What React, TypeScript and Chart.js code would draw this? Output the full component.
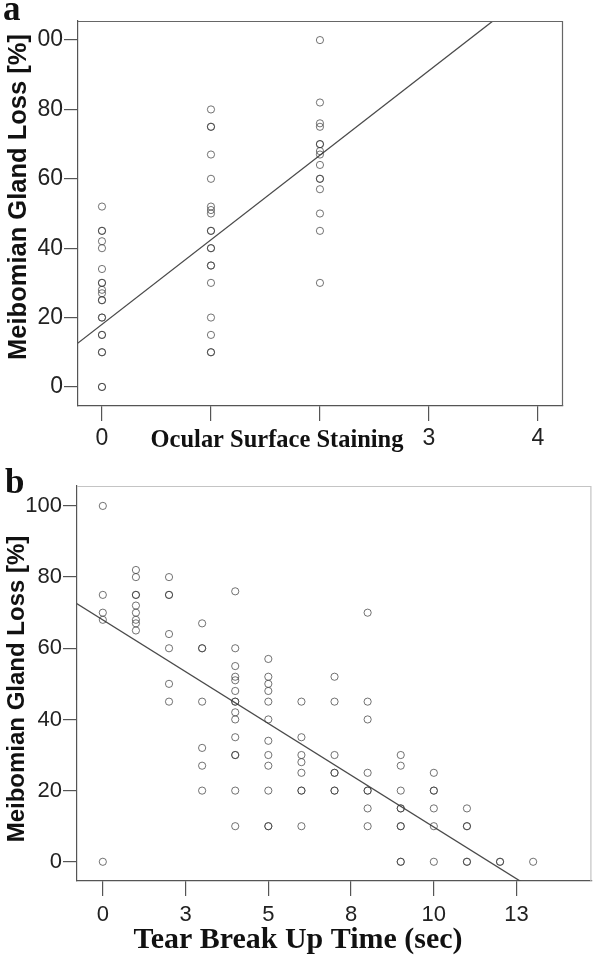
import React, { useEffect, useRef } from "react";
import { Chart, registerables } from "chart.js";

Chart.register(...registerables);

// ---------- Panel a: Ocular Surface Staining vs Meibomian Gland Loss ----------
const stainLevels = [0, 1, 2];
const lossStain0 = [52, 45, 45, 42, 40, 34, 30, 30, 28, 27, 25, 25, 20, 20, 15, 15, 10, 10, 0, 0];
const lossStain1 = [80, 75, 75, 67, 60, 52, 51, 50, 45, 45, 40, 40, 35, 35, 30, 20, 15, 10, 10];
const lossStain2 = [100, 82, 76, 75, 70, 70, 68, 67, 64, 60, 60, 57, 50, 45, 30];
const fitStainX = [-0.3, 3.8];
const fitStainY = [10.7, 110.7];
const stainTicks = [0, 1, 2, 3, 4];
const stainTickLabels = ["0", "", "", "3", "4"];
const lossTicks = [0, 20, 40, 60, 80, 100];
const lossTickLabelsA = ["0", "20", "40", "60", "80", "00"];
const lossTickLabelsB = ["0", "20", "40", "60", "80", "100"];

// ---------- Panel b: Tear Break Up Time vs Meibomian Gland Loss ----------
const tbutSeconds = [0, 1, 2, 3, 4, 5, 6, 7, 8, 9, 10, 11, 12, 13];
const lossByTbut = [
  [100, 75, 70, 68, 0],
  [82, 80, 75, 75, 72, 70, 68, 67, 65],
  [80, 75, 75, 64, 60, 50, 45],
  [67, 60, 60, 45, 32, 27, 20],
  [76, 60, 55, 52, 51, 48, 45, 45, 42, 40, 35, 30, 30, 20, 10],
  [57, 52, 50, 48, 45, 40, 34, 30, 27, 20, 10, 10],
  [45, 35, 30, 28, 25, 20, 20, 10],
  [52, 45, 30, 25, 25, 20, 20],
  [70, 45, 40, 25, 20, 20, 15, 10],
  [30, 27, 20, 15, 15, 10, 10, 0, 0],
  [25, 20, 20, 15, 10, 0],
  [15, 10, 10, 0, 0],
  [0, 0],
  [0],
];
const fitTbutX = [-0.9, 13.0];
const fitTbutY = [73.2, -7.7];
const tbutTicks = [0, 2.5, 5, 7.5, 10, 12.5];
const tbutTickLabels = ["0", "3", "5", "8", "10", "13"];

type TextItem = {
  text: string;
  x: number;
  y: number;
  font: string;
  size: number;
  bold?: boolean;
  rotate?: boolean;
  align?: CanvasTextAlign;
  fitWidth?: number;
};

function makeTextPlugin(items: TextItem[]) {
  return {
    id: "texts",
    afterDraw(chart: any) {
      const ctx = chart.ctx as CanvasRenderingContext2D;
      items.forEach((it) => {
        ctx.save();
        let size = it.size;
        const mk = (s: number) => `${it.bold ? "bold " : ""}${s}px ${it.font}`;
        ctx.font = mk(size);
        if (it.fitWidth) {
          const w = ctx.measureText(it.text).width;
          size = (size * it.fitWidth) / w;
          ctx.font = mk(size);
        }
        ctx.fillStyle = "#111";
        ctx.textBaseline = "alphabetic";
        ctx.textAlign = it.align || "center";
        ctx.translate(it.x, it.y);
        if (it.rotate) ctx.rotate(-Math.PI / 2);
        ctx.fillText(it.text, 0, 0);
        ctx.restore();
      });
    },
  };
}

function makeBoxPlugin(color: string) {
  return {
    id: "box",
    afterDatasetsDraw(chart: any) {
      const { ctx, chartArea } = chart;
      ctx.save();
      ctx.strokeStyle = color;
      ctx.lineWidth = 1.2;
      ctx.beginPath();
      ctx.moveTo(chartArea.left, chartArea.top + 0.5);
      ctx.lineTo(chartArea.right - 0.5, chartArea.top + 0.5);
      ctx.lineTo(chartArea.right - 0.5, chartArea.bottom);
      ctx.stroke();
      ctx.restore();
    },
  };
}

type PanelSpec = {
  points: { x: number; y: number }[];
  fit: { x: number; y: number }[];
  xMin: number;
  xMax: number;
  yMin: number;
  yMax: number;
  xTicks: number[];
  xLabels: string[];
  yLabels: string[];
  padTop: number;
  padRight: number;
  yAxisWidth: number;
  xAxisHeight: number;
  tickSize: number;
  xPad: number;
  boxColor: string;
  texts: TextItem[];
};

function buildConfig(p: PanelSpec): any {
  const tickFont = { family: "'Liberation Sans', Arial, sans-serif", size: p.tickSize };
  return {
    type: "scatter",
    data: {
      datasets: [
        {
          data: p.points,
          showLine: false,
          pointRadius: 3.6,
          pointHoverRadius: 3.6,
          pointBorderWidth: 1,
          pointBackgroundColor: "rgba(0,0,0,0)",
          pointBorderColor: "rgba(55,55,55,0.7)",
        },
        {
          data: p.fit,
          showLine: true,
          pointRadius: 0,
          borderColor: "#4a4a4a",
          borderWidth: 1.3,
          fill: false,
        },
      ],
    },
    options: {
      animation: false,
      responsive: false,
      devicePixelRatio: 1,
      events: [],
      layout: { padding: { top: p.padTop, right: p.padRight, left: 0, bottom: 0 } },
      plugins: {
        legend: { display: false },
        tooltip: { enabled: false },
      },
      scales: {
        x: {
          type: "linear",
          min: p.xMin,
          max: p.xMax,
          afterFit: (s: any) => {
            s.height = p.xAxisHeight;
          },
          afterBuildTicks: (s: any) => {
            s.ticks = p.xTicks.map((v) => ({ value: v }));
          },
          ticks: {
            callback: (_v: any, i: number) => p.xLabels[i],
            autoSkip: false,
            maxRotation: 0,
            minRotation: 0,
            padding: p.xPad,
            color: "#222",
            font: tickFont,
          },
          grid: { drawOnChartArea: false, drawTicks: true, tickLength: 15, color: "#555", lineWidth: 1.2 },
          border: { display: true, color: "#555", width: 1.2 },
        },
        y: {
          type: "linear",
          min: p.yMin,
          max: p.yMax,
          afterFit: (s: any) => {
            s.width = p.yAxisWidth;
          },
          afterBuildTicks: (s: any) => {
            s.ticks = lossTicks.map((v) => ({ value: v }));
          },
          ticks: {
            callback: (_v: any, i: number) => p.yLabels[i],
            autoSkip: false,
            padding: 1,
            color: "#222",
            font: tickFont,
          },
          grid: { drawOnChartArea: false, drawTicks: true, tickLength: 14, color: "#555", lineWidth: 1.2 },
          border: { display: true, color: "#555", width: 1.2 },
        },
      },
    },
    plugins: [makeBoxPlugin(p.boxColor), makeTextPlugin(p.texts)],
  };
}

const pointsA = [
  ...lossStain0.map((v) => ({ x: stainLevels[0], y: v })),
  ...lossStain1.map((v) => ({ x: stainLevels[1], y: v })),
  ...lossStain2.map((v) => ({ x: stainLevels[2], y: v })),
];
const pointsB = lossByTbut.flatMap((col, i) => col.map((v) => ({ x: tbutSeconds[i], y: v })));

const SANS = "'Liberation Sans', Arial, sans-serif";
const SERIF = "'Liberation Serif', 'Times New Roman', serif";

const specA: PanelSpec = {
  points: pointsA,
  fit: fitStainX.map((x, i) => ({ x, y: fitStainY[i] })),
  xMin: -0.22,
  xMax: 4.23,
  yMin: -5.5,
  yMax: 105.5,
  xTicks: stainTicks,
  xLabels: stainTickLabels,
  yLabels: lossTickLabelsA,
  padTop: 21,
  padRight: 33,
  yAxisWidth: 78,
  xAxisHeight: 49,
  tickSize: 23,
  xPad: 4,
  boxColor: "#666",
  texts: [
    { text: "a", x: 3, y: 20, font: SERIF, size: 35, bold: true, align: "left" },
    { text: "Meibomian Gland Loss [%]", x: 26, y: 197, font: SANS, size: 25.5, bold: true, rotate: true },
    { text: "Ocular Surface Staining", x: 277, y: 447, font: SERIF, size: 25, bold: true, fitWidth: 253 },
  ],
};

const specB: PanelSpec = {
  points: pointsB,
  fit: fitTbutX.map((x, i) => ({ x, y: fitTbutY[i] })),
  xMin: -0.78,
  xMax: 14.76,
  yMin: -5.4,
  yMax: 105.6,
  xTicks: tbutTicks,
  xLabels: tbutTickLabels,
  yLabels: lossTickLabelsB,
  padTop: 31,
  padRight: 3,
  yAxisWidth: 77,
  xAxisHeight: 75,
  tickSize: 22,
  xPad: 6,
  boxColor: "#c4c4c4",
  texts: [
    { text: "b", x: 5, y: 38, font: SERIF, size: 35, bold: true, align: "left" },
    { text: "Meibomian Gland Loss [%]", x: 24, y: 234, font: SANS, size: 24, bold: true, rotate: true },
    { text: "Tear Break Up Time (sec)", x: 298, y: 493, font: SERIF, size: 28, bold: true, fitWidth: 329 },
  ],
};

export default function App() {
  const refA = useRef<HTMLCanvasElement>(null);
  const refB = useRef<HTMLCanvasElement>(null);

  useEffect(() => {
    const a = new Chart(refA.current as HTMLCanvasElement, buildConfig(specA));
    const b = new Chart(refB.current as HTMLCanvasElement, buildConfig(specB));
    return () => {
      a.destroy();
      b.destroy();
    };
  }, []);

  return (
    <div style={{ position: "absolute", left: 0, top: 0, width: 596, height: 956, background: "#fff" }}>
      <canvas
        ref={refA}
        width={596}
        height={455}
        style={{ position: "absolute", left: 0, top: 0, width: 596, height: 455 }}
      />
      <canvas
        ref={refB}
        width={596}
        height={501}
        style={{ position: "absolute", left: 0, top: 455, width: 596, height: 501 }}
      />
    </div>
  );
}
